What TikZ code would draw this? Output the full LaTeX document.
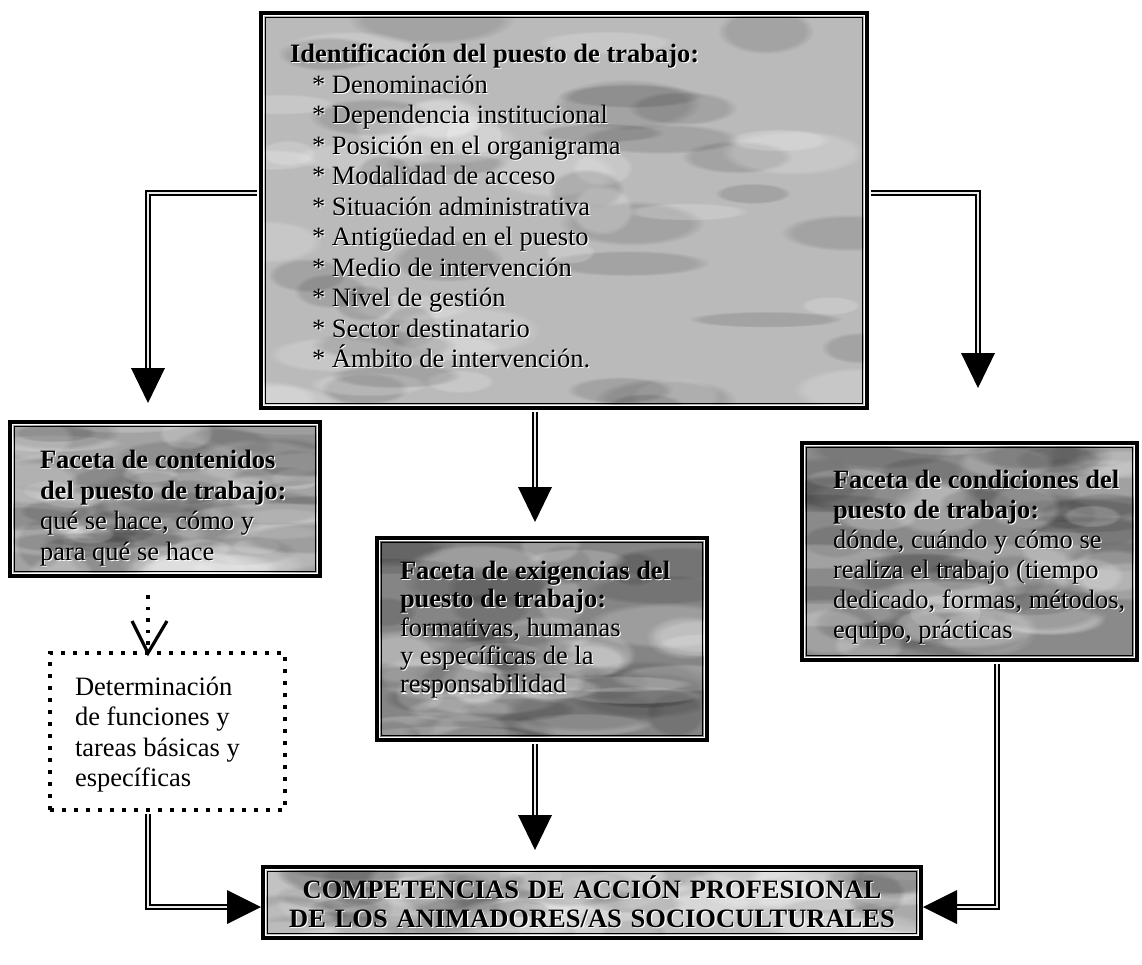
\documentclass[tikz,border=0pt]{standalone}
\usepackage{fontspec}
\setmainfont{Liberation Serif}
\usetikzlibrary{calc,fadings}

% text with a light offset copy underneath (embossed look)
\newcommand{\shd}[1]{\leavevmode\rlap{\kern1.1pt\raisebox{-1.1pt}{\textcolor{white}{#1}}}#1}
% box text block: width, height, left margin, top margin, lines
\newcommand{\bxt}[5]{\parbox[c][#2][t]{#1}{\vspace*{#4}\raggedright\leftskip=#3\relax #5\par}}
% solid triangular arrow heads, tip at the given point
\newcommand{\arrdown}[1]{\fill (#1) -- ++(-17,-35) -- ++(34,0) -- cycle;}
\newcommand{\arrright}[1]{\fill (#1) -- ++(-34,-17) -- ++(0,34) -- cycle;}
\newcommand{\arrleft}[1]{\fill (#1) -- ++(34,-17) -- ++(0,34) -- cycle;}

\tikzset{
  blob/.style={path fading=circle with fuzzy edge 20 percent},
  frame/.style={draw=black, line width=4pt, inner sep=0pt,
    font=\fontsize{26.5}{30.5}\selectfont,
    path picture={
      % cloudy stone texture
      \foreach \k in {1,...,30}{
        \fill[white, opacity=0.2, blob]
          let \p1=(path picture bounding box.south west),
              \p2=(path picture bounding box.north east) in
          ({\x1+rnd*(\x2-\x1)},{\y1+rnd*(\y2-\y1)})
          ellipse [x radius={25pt+rnd*60pt}, y radius={8pt+rnd*18pt}];
        \fill[black, opacity=0.12, blob]
          let \p1=(path picture bounding box.south west),
              \p2=(path picture bounding box.north east) in
          ({\x1+rnd*(\x2-\x1)},{\y1+rnd*(\y2-\y1)})
          ellipse [x radius={25pt+rnd*60pt}, y radius={8pt+rnd*18pt}];
      }
      % inner rule of the double frame
      \draw[white, line width=1.4pt]
        ([shift={(2.7pt,2.7pt)}]path picture bounding box.south west) rectangle
        ([shift={(-2.7pt,-2.7pt)}]path picture bounding box.north east);
      \draw[black, line width=1.2pt]
        ([shift={(4.2pt,4.2pt)}]path picture bounding box.south west) rectangle
        ([shift={(-4.2pt,-4.2pt)}]path picture bounding box.north east);
    }},
  dotbox/.style={draw=black, line width=3.6pt, dash pattern=on 3.6pt off 8.4pt,
    inner sep=0pt, font=\fontsize{26.5}{30.5}\selectfont},
  conn/.style={line width=1.8pt, double=black!8, double distance=1.7pt},
  dotline/.style={line width=3.6pt, dash pattern=on 3.6pt off 8pt},
}

\begin{document}
\begin{tikzpicture}[x=1pt, y=-1pt]
\pgfmathsetseed{11}
\useasboundingbox[fill=white] (0,0) rectangle (1142,964);

% ---- boxes ----
\node[frame, fill=black!27] (ident) at (564,210.5) {\bxt{606pt}{395pt}{29pt}{31pt}{%
  \shd{\textbf{Identificación del puesto de trabajo:}}\\
  \hspace*{22pt}\shd{* Denominación}\\
  \hspace*{22pt}\shd{* Dependencia institucional}\\
  \hspace*{22pt}\shd{* Posición en el organigrama}\\
  \hspace*{22pt}\shd{* Modalidad de acceso}\\
  \hspace*{22pt}\shd{* Situación administrativa}\\
  \hspace*{22pt}\shd{* Antigüedad en el puesto}\\
  \hspace*{22pt}\shd{* Medio de intervención}\\
  \hspace*{22pt}\shd{* Nivel de gestión}\\
  \hspace*{22pt}\shd{* Sector destinatario}\\
  \hspace*{22pt}\shd{* Ámbito de intervención.}}};

\node[frame, fill=black!36, font=\fontsize{26.5}{30.7}\selectfont]
  (cont) at (165,499) {\bxt{310pt}{154pt}{30pt}{28pt}{%
  \shd{\textbf{Faceta de contenidos}}\\
  \shd{\textbf{del puesto de trabajo:}}\\
  \shd{qué se hace, cómo y}\\
  \shd{para qué se hace}}};

\node[frame, fill=black!48, font=\fontsize{26.5}{28.4}\selectfont]
  (exig) at (542,639) {\bxt{330pt}{202pt}{23pt}{23pt}{%
  \shd{\textbf{Faceta de exigencias del}}\\
  \shd{\textbf{puesto de trabajo:}}\\
  \shd{formativas, humanas}\\
  \shd{y específicas de la}\\
  \shd{responsabilidad}}};

\node[frame, fill=black!46, font=\fontsize{26.5}{30}\selectfont]
  (cond) at (969.5,551.5) {\bxt{335pt}{217pt}{31pt}{27pt}{%
  \shd{\textbf{Faceta de condiciones del}}\\
  \shd{\textbf{puesto de trabajo:}}\\
  \shd{dónde, cuándo y cómo se}\\
  \shd{realiza el trabajo (tiempo}\\
  \shd{dedicado, formas, métodos,}\\
  \shd{equipo, prácticas}}};

\node[dotbox, font=\fontsize{26.5}{30.3}\selectfont]
  (func) at (167.5,731.5) {\bxt{235pt}{157pt}{25pt}{24pt}{%
  Determinación\\
  de funciones y\\
  tareas básicas y\\
  específicas}};

\node[frame, fill=black!24, text width=650pt, minimum width=658pt, minimum height=71pt,
  inner sep=4pt, align=center, font=\fontsize{26.5}{29}\selectfont]
  (comp) at (592,902.5) {%
  \shd{\textbf{COMPETENCIAS DE ACCIÓN PROFESIONAL}}\\
  \shd{\textbf{DE LOS ANIMADORES/AS SOCIOCULTURALES}}};

% ---- connectors ----
\coordinate (jL) at (148,193);
\coordinate (tipL) at (148,403);
\draw[conn, shorten <=2pt, shorten >=33pt] (ident.west |- jL) -- (jL) -- (tipL);
\arrdown{tipL}

\coordinate (jR) at (978,193);
\coordinate (tipR) at (978,388);
\draw[conn, shorten <=2pt, shorten >=33pt] (ident.east |- jR) -- (jR) -- (tipR);
\arrdown{tipR}

\coordinate (tipM) at (535,522);
\draw[conn, shorten <=2pt, shorten >=33pt] (ident.south -| tipM) -- (tipM);
\arrdown{tipM}

\coordinate (tipD) at (148,653);
\draw[dotline, shorten <=17pt, shorten >=3pt] (cont.south -| tipD) -- (tipD);
\draw[line width=3.2pt] (tipD) ++(-16,-32) -- (tipD) -- ++(19,-32);

\coordinate (tipE) at (535,850);
\draw[conn, shorten <=2pt, shorten >=33pt] (exig.south -| tipE) -- (tipE);
\arrdown{tipE}

\coordinate (jF) at (148,907);
\draw[conn, shorten <=2pt, shorten >=33pt] (func.south -| jF) -- (jF) -- (comp.west |- jF);
\arrright{comp.west |- jF}

\coordinate (jG) at (997,907);
\draw[conn, shorten <=2pt, shorten >=33pt] (cond.south -| jG) -- (jG) -- (comp.east |- jG);
\arrleft{comp.east |- jG}
\end{tikzpicture}
\end{document}
